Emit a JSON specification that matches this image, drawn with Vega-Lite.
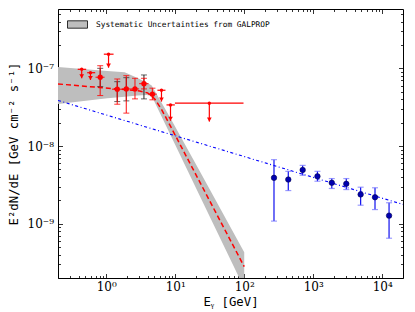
{
  "$schema": "https://vega.github.io/schema/vega-lite/v6.json",
  "width": 345,
  "height": 269,
  "autosize": "none",
  "padding": {"left": 58, "top": 9, "right": 12, "bottom": 34},
  "background": "white",
  "config": {
    "view": {"stroke": "black", "strokeWidth": 1},
    "axis": {"domain": false, "grid": false, "tickColor": "black", "tickWidth": 0.8, "labelFont": "DejaVu Serif", "labelFontSize": 12, "labelColor": "black", "titleFont": "DejaVu Sans Mono", "titleFontSize": 12.3, "titleFontWeight": "normal", "titleColor": "black"}
  },
  "datasets": {
    "band": [
      {"E": 0.2, "hi": 1.04e-7, "lo": 3.48e-8},
      {"E": 1.04, "hi": 9.23e-8, "lo": 4.12e-8},
      {"E": 1.85, "hi": 8.89e-8, "lo": 4.31e-8},
      {"E": 2.85, "hi": 7.52e-8, "lo": 4.48e-8},
      {"E": 3.86, "hi": 6.58e-8, "lo": 4.52e-8},
      {"E": 4.56, "hi": 6.01e-8, "lo": 4.41e-8},
      {"E": 8.34, "hi": 2.37e-8, "lo": 1.45e-8},
      {"E": 22.8, "hi": 4.69e-9, "lo": 2.25e-9},
      {"E": 100, "hi": 4.28e-10, "lo": 1.48e-10}
    ],
    "fit": [
      {"E": 0.2, "flux": 6.29e-8},
      {"E": 0.8, "flux": 5.67e-8},
      {"E": 3.05, "flux": 5.12e-8},
      {"E": 3.99, "flux": 4.82e-8},
      {"E": 5.05, "flux": 4.04e-8},
      {"E": 6.38, "flux": 2.92e-8},
      {"E": 8.34, "flux": 1.87e-8},
      {"E": 100, "flux": 2.8e-10}
    ],
    "pl": [
      {"E": 0.2, "flux": 3.86e-8},
      {"E": 20000, "flux": 1.77e-9}
    ],
    "lat": [
      {"E": 0.818, "Elo": 0.70, "Ehi": 0.945, "flux": 7.67e-8, "lo": 4.46e-8, "hi": 1.08e-7},
      {"E": 1.445, "Elo": 1.21, "Ehi": 1.71, "flux": 5.38e-8, "lo": 3.45e-8, "hi": 7.29e-8},
      {"E": 1.955, "Elo": 1.71, "Ehi": 2.25, "flux": 5.43e-8, "lo": 2.65e-8, "hi": 8.04e-8},
      {"E": 2.61, "Elo": 2.25, "Ehi": 3.0, "flux": 5.43e-8, "lo": 4.04e-8, "hi": 7.44e-8},
      {"E": 3.52, "Elo": 3.0, "Ehi": 4.1, "flux": 6.35e-8, "lo": 5.43e-8, "hi": 7.44e-8},
      {"E": 4.67, "Elo": 4.1, "Ehi": 5.4, "flux": 4.65e-8, "lo": 3.93e-8, "hi": 5.55e-8}
    ],
    "sys": [
      {"E": 0.818, "slo": 5.81e-8, "shi": 1.0e-7},
      {"E": 1.445, "slo": 3.73e-8, "shi": 6.73e-8},
      {"E": 1.955, "slo": 3.81e-8, "shi": 7.58e-8},
      {"E": 3.52, "slo": 4.04e-8, "shi": 8.21e-8}
    ],
    "ul": [
      {"E": 0.441, "Elo": 0.386, "Ehi": 0.512, "flux": 9.71e-8, "end": 7.44e-8},
      {"E": 0.591, "Elo": 0.529, "Ehi": 0.692, "flux": 8.78e-8, "end": 7.08e-8},
      {"E": 1.08, "Elo": 0.923, "Ehi": 1.277, "flux": 1.52e-7, "end": 1.02e-7},
      {"E": 6.32, "Elo": 5.52, "Ehi": 7.22, "flux": 5.22e-8, "end": 3.73e-8},
      {"E": 8.54, "Elo": 7.47, "Ehi": 9.87, "flux": 3.38e-8, "end": 2.11e-8},
      {"E": 31.2, "Elo": 9.9, "Ehi": 97.6, "flux": 3.56e-8, "end": 2.06e-8}
    ],
    "hess": [
      {"E": 270, "flux": 3.89e-9, "lo": 1.08e-9, "hi": 6.67e-9},
      {"E": 435, "flux": 3.70e-9, "lo": 2.67e-9, "hi": 4.72e-9},
      {"E": 703, "flux": 4.92e-9, "lo": 4.20e-9, "hi": 5.63e-9},
      {"E": 1151, "flux": 4.07e-9, "lo": 3.52e-9, "hi": 4.72e-9},
      {"E": 1858, "flux": 3.36e-9, "lo": 2.84e-9, "hi": 3.81e-9},
      {"E": 3013, "flux": 3.26e-9, "lo": 2.75e-9, "hi": 3.81e-9},
      {"E": 4865, "flux": 2.38e-9, "lo": 1.73e-9, "hi": 2.95e-9},
      {"E": 7858, "flux": 2.19e-9, "lo": 1.52e-9, "hi": 2.90e-9},
      {"E": 12560, "flux": 1.27e-9, "lo": 6.5e-10, "hi": 1.86e-9}
    ]
  },
  "resolve": {"axis": {"x": "independent", "y": "independent"}},
  "layer": [
    {
      "data": {"name": "band"},
      "mark": {"type": "area", "clip": true, "color": "#bebebe", "opacity": 1},
      "encoding": {
        "x": {"field": "E", "type": "quantitative", "scale": {"type": "log", "domain": [0.2, 20000], "nice": false},
          "axis": {"orient": "bottom", "values": [1, 10, 100, 1000, 10000], "tickSize": -4.5, "labelPadding": 8, "labelExpr": "datum.value < 5 ? '10⁰' : datum.value < 50 ? '10¹' : datum.value < 500 ? '10²' : datum.value < 5000 ? '10³' : '10⁴'", "title": "Eᵧ  [GeV]", "titlePadding": 3}},
        "y": {"field": "hi", "type": "quantitative", "scale": {"type": "log", "domain": [2e-10, 5.8e-7], "nice": false},
          "axis": {"orient": "left", "values": [1e-9, 1e-8, 1e-7], "tickSize": -4.5, "labelPadding": 9, "labelExpr": "datum.value < 5e-9 ? '10⁻⁹' : datum.value < 5e-8 ? '10⁻⁸' : '10⁻⁷'", "title": "E²dN/dE [GeV cm⁻² s⁻¹]", "titlePadding": 7}},
        "y2": {"field": "lo"},
        "fill": {"datum": "Systematic Uncertainties from GALPROP", "type": "nominal", "scale": {"range": ["#bebebe"]},
          "legend": {"title": null, "orient": "none", "legendX": 9, "legendY": 5, "symbolType": "M-1,-0.37H1V0.37H-1Z", "symbolSize": 400, "symbolStrokeColor": "black", "symbolStrokeWidth": 0.8, "symbolOpacity": 1, "labelFont": "DejaVu Sans Mono", "labelFontSize": 7.8, "labelColor": "black", "labelOffset": 8, "labelLimit": 400, "padding": 0}}
      }
    },
    {
      "data": {"name": "fit"},
      "mark": {"type": "line", "color": "#ff0000", "strokeWidth": 1.5, "strokeDash": [5, 3], "clip": true},
      "encoding": {
        "x": {"field": "E", "type": "quantitative", "scale": {"type": "log", "domain": [0.2, 20000], "nice": false},
          "axis": {"orient": "top", "values": [1, 10, 100, 1000, 10000], "tickSize": -4.5, "labels": false, "title": null}},
        "y": {"field": "flux", "type": "quantitative", "scale": {"type": "log", "domain": [2e-10, 5.8e-7], "nice": false},
          "axis": {"orient": "right", "values": [1e-9, 1e-8, 1e-7], "tickSize": -4.5, "labels": false, "title": null}}
      }
    },
    {
      "data": {"name": "pl"},
      "mark": {"type": "line", "color": "#0000ff", "strokeWidth": 1.1, "strokeDash": [3, 2.5, 1, 2.5], "clip": true},
      "encoding": {
        "x": {"field": "E", "type": "quantitative", "scale": {"type": "log", "domain": [0.2, 20000], "nice": false},
          "axis": {"orient": "bottom", "values": [0.2,0.3,0.4,0.5,0.6,0.7,0.8,0.9,2,3,4,5,6,7,8,9,20,30,40,50,60,70,80,90,200,300,400,500,600,700,800,900,2000,3000,4000,5000,6000,7000,8000,9000], "tickSize": -2.5, "labels": false, "title": null}},
        "y": {"field": "flux", "type": "quantitative", "scale": {"type": "log", "domain": [2e-10, 5.8e-7], "nice": false},
          "axis": {"orient": "left", "values": [2e-10,3e-10,4e-10,5e-10,6e-10,7e-10,8e-10,9e-10,2e-9,3e-9,4e-9,5e-9,6e-9,7e-9,8e-9,9e-9,2e-8,3e-8,4e-8,5e-8,6e-8,7e-8,8e-8,9e-8,2e-7,3e-7,4e-7,5e-7], "tickSize": -2.5, "labels": false, "title": null}}
      }
    },
    {
      "data": {"name": "sys"},
      "mark": {"type": "rule", "color": "#222222", "strokeWidth": 1},
      "encoding": {
        "x": {"field": "E", "type": "quantitative", "scale": {"type": "log", "domain": [0.2, 20000], "nice": false},
          "axis": {"orient": "top", "values": [0.2,0.3,0.4,0.5,0.6,0.7,0.8,0.9,2,3,4,5,6,7,8,9,20,30,40,50,60,70,80,90,200,300,400,500,600,700,800,900,2000,3000,4000,5000,6000,7000,8000,9000], "tickSize": -2.5, "labels": false, "title": null}},
        "y": {"field": "slo", "type": "quantitative", "scale": {"type": "log", "domain": [2e-10, 5.8e-7], "nice": false},
          "axis": {"orient": "right", "values": [2e-10,3e-10,4e-10,5e-10,6e-10,7e-10,8e-10,9e-10,2e-9,3e-9,4e-9,5e-9,6e-9,7e-9,8e-9,9e-9,2e-8,3e-8,4e-8,5e-8,6e-8,7e-8,8e-8,9e-8,2e-7,3e-7,4e-7,5e-7], "tickSize": -2.5, "labels": false, "title": null}},
        "y2": {"field": "shi"}
      }
    },
    {
      "data": {"name": "sys"},
      "mark": {"type": "tick", "orient": "horizontal", "color": "#222222", "size": 6, "thickness": 1},
      "encoding": {
        "x": {"field": "E", "type": "quantitative", "scale": {"type": "log", "domain": [0.2, 20000], "nice": false}, "axis": null},
        "y": {"field": "slo", "type": "quantitative", "scale": {"type": "log", "domain": [2e-10, 5.8e-7], "nice": false}, "axis": null}
      }
    },
    {
      "data": {"name": "sys"},
      "mark": {"type": "tick", "orient": "horizontal", "color": "#222222", "size": 6, "thickness": 1},
      "encoding": {
        "x": {"field": "E", "type": "quantitative", "scale": {"type": "log", "domain": [0.2, 20000], "nice": false}, "axis": null},
        "y": {"field": "shi", "type": "quantitative", "scale": {"type": "log", "domain": [2e-10, 5.8e-7], "nice": false}, "axis": null}
      }
    },
    {
      "data": {"name": "lat"},
      "mark": {"type": "rule", "color": "#ff0000", "strokeWidth": 1.2, "opacity": 0.8},
      "encoding": {
        "x": {"field": "E", "type": "quantitative", "scale": {"type": "log", "domain": [0.2, 20000], "nice": false}, "axis": null},
        "y": {"field": "lo", "type": "quantitative", "scale": {"type": "log", "domain": [2e-10, 5.8e-7], "nice": false}, "axis": null},
        "y2": {"field": "hi"}
      }
    },
    {
      "data": {"name": "lat"},
      "mark": {"type": "rule", "color": "#ff0000", "strokeWidth": 1.2, "opacity": 0.8},
      "encoding": {
        "x": {"field": "Elo", "type": "quantitative", "scale": {"type": "log", "domain": [0.2, 20000], "nice": false}, "axis": null},
        "x2": {"field": "Ehi"},
        "y": {"field": "flux", "type": "quantitative", "scale": {"type": "log", "domain": [2e-10, 5.8e-7], "nice": false}, "axis": null}
      }
    },
    {
      "data": {"name": "lat"},
      "mark": {"type": "tick", "orient": "horizontal", "color": "#ff0000", "size": 6, "thickness": 1, "opacity": 0.8},
      "encoding": {
        "x": {"field": "E", "type": "quantitative", "scale": {"type": "log", "domain": [0.2, 20000], "nice": false}, "axis": null},
        "y": {"field": "lo", "type": "quantitative", "scale": {"type": "log", "domain": [2e-10, 5.8e-7], "nice": false}, "axis": null}
      }
    },
    {
      "data": {"name": "lat"},
      "mark": {"type": "tick", "orient": "horizontal", "color": "#ff0000", "size": 6, "thickness": 1, "opacity": 0.8},
      "encoding": {
        "x": {"field": "E", "type": "quantitative", "scale": {"type": "log", "domain": [0.2, 20000], "nice": false}, "axis": null},
        "y": {"field": "hi", "type": "quantitative", "scale": {"type": "log", "domain": [2e-10, 5.8e-7], "nice": false}, "axis": null}
      }
    },
    {
      "data": {"name": "lat"},
      "mark": {"type": "point", "shape": "circle", "filled": true, "color": "#ff0000", "size": 28, "opacity": 1},
      "encoding": {
        "x": {"field": "E", "type": "quantitative", "scale": {"type": "log", "domain": [0.2, 20000], "nice": false}, "axis": null},
        "y": {"field": "flux", "type": "quantitative", "scale": {"type": "log", "domain": [2e-10, 5.8e-7], "nice": false}, "axis": null}
      }
    },
    {
      "data": {"name": "ul"},
      "mark": {"type": "rule", "color": "#ff0000", "strokeWidth": 1.2},
      "encoding": {
        "x": {"field": "E", "type": "quantitative", "scale": {"type": "log", "domain": [0.2, 20000], "nice": false}, "axis": null},
        "y": {"field": "flux", "type": "quantitative", "scale": {"type": "log", "domain": [2e-10, 5.8e-7], "nice": false}, "axis": null},
        "y2": {"field": "end"}
      }
    },
    {
      "data": {"name": "ul"},
      "mark": {"type": "rule", "color": "#ff0000", "strokeWidth": 1.2},
      "encoding": {
        "x": {"field": "Elo", "type": "quantitative", "scale": {"type": "log", "domain": [0.2, 20000], "nice": false}, "axis": null},
        "x2": {"field": "Ehi"},
        "y": {"field": "flux", "type": "quantitative", "scale": {"type": "log", "domain": [2e-10, 5.8e-7], "nice": false}, "axis": null}
      }
    },
    {
      "data": {"name": "ul"},
      "mark": {"type": "point", "shape": "triangle-down", "filled": true, "color": "#ff0000", "size": 22, "opacity": 1, "yOffset": -2},
      "encoding": {
        "x": {"field": "E", "type": "quantitative", "scale": {"type": "log", "domain": [0.2, 20000], "nice": false}, "axis": null},
        "y": {"field": "end", "type": "quantitative", "scale": {"type": "log", "domain": [2e-10, 5.8e-7], "nice": false}, "axis": null}
      }
    },
    {
      "data": {"name": "ul"},
      "mark": {"type": "point", "shape": "circle", "filled": true, "color": "#ff0000", "size": 12, "opacity": 1},
      "encoding": {
        "x": {"field": "E", "type": "quantitative", "scale": {"type": "log", "domain": [0.2, 20000], "nice": false}, "axis": null},
        "y": {"field": "flux", "type": "quantitative", "scale": {"type": "log", "domain": [2e-10, 5.8e-7], "nice": false}, "axis": null}
      }
    },
    {
      "data": {"name": "hess"},
      "mark": {"type": "rule", "color": "#1010ee", "strokeWidth": 1.2},
      "encoding": {
        "x": {"field": "E", "type": "quantitative", "scale": {"type": "log", "domain": [0.2, 20000], "nice": false}, "axis": null},
        "y": {"field": "lo", "type": "quantitative", "scale": {"type": "log", "domain": [2e-10, 5.8e-7], "nice": false}, "axis": null},
        "y2": {"field": "hi"}
      }
    },
    {
      "data": {"name": "hess"},
      "mark": {"type": "tick", "orient": "horizontal", "color": "#7070ff", "size": 6, "thickness": 1.2},
      "encoding": {
        "x": {"field": "E", "type": "quantitative", "scale": {"type": "log", "domain": [0.2, 20000], "nice": false}, "axis": null},
        "y": {"field": "lo", "type": "quantitative", "scale": {"type": "log", "domain": [2e-10, 5.8e-7], "nice": false}, "axis": null}
      }
    },
    {
      "data": {"name": "hess"},
      "mark": {"type": "tick", "orient": "horizontal", "color": "#7070ff", "size": 6, "thickness": 1.2},
      "encoding": {
        "x": {"field": "E", "type": "quantitative", "scale": {"type": "log", "domain": [0.2, 20000], "nice": false}, "axis": null},
        "y": {"field": "hi", "type": "quantitative", "scale": {"type": "log", "domain": [2e-10, 5.8e-7], "nice": false}, "axis": null}
      }
    },
    {
      "data": {"name": "hess"},
      "mark": {"type": "point", "shape": "circle", "filled": true, "color": "#0000b0", "stroke": "#000050", "strokeWidth": 0.6, "size": 30, "opacity": 1},
      "encoding": {
        "x": {"field": "E", "type": "quantitative", "scale": {"type": "log", "domain": [0.2, 20000], "nice": false}, "axis": null},
        "y": {"field": "flux", "type": "quantitative", "scale": {"type": "log", "domain": [2e-10, 5.8e-7], "nice": false}, "axis": null}
      }
    }
  ]
}
